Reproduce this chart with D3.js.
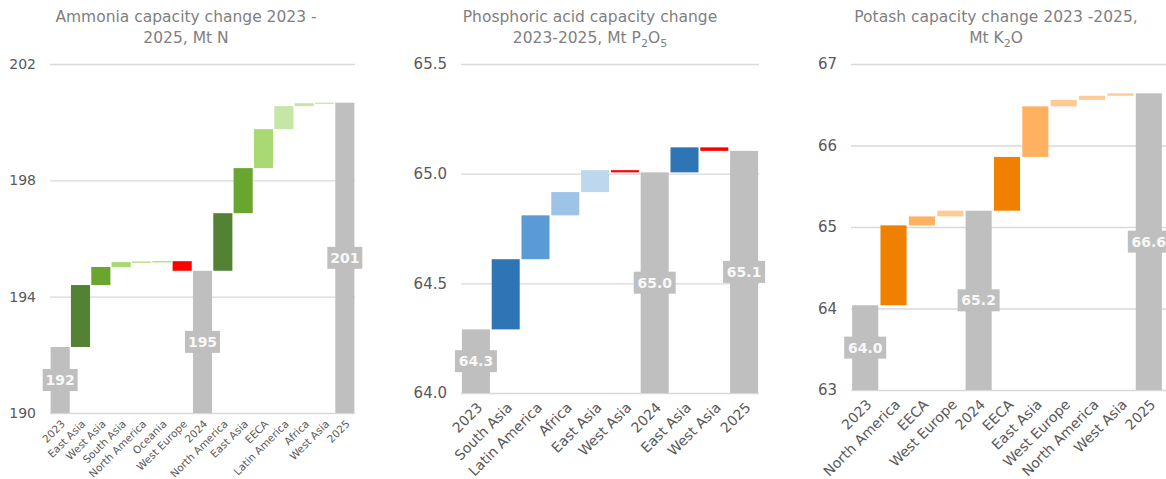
<!DOCTYPE html>
<html>
<head>
<meta charset="utf-8">
<script src="https://cdn.jsdelivr.net/npm/d3@7"></script>
<style>
  body { margin: 0; background: #fff; }
  svg text { font-family: Tahoma, "DejaVu Sans", sans-serif; }
</style>
</head>
<body>
<div id="chart"></div>
<script>
// years are totals, the rest are changes between them
var totalCats = ["2023", "2024", "2025"];

// Ammonia, Mt N
var ammoniaCats = ["2023", "East Asia", "West Asia", "South Asia", "North America", "Oceania", "West Europe", "2024",
    "North America", "East Asia", "EECA", "Latin America", "Africa", "West Asia", "2025"];
var ammoniaValues = [192.27, 2.13, 0.62, 0.17, 0.02, 0.01, -0.33, 194.89, 1.98, 1.55, 1.34, 0.79, 0.10, 0.02, 200.67];
var ammoniaTicks = [190, 194, 198, 202];

// Phosphoric acid, Mt P2O5
var phosCats = ["2023", "South Asia", "Latin America", "Africa", "East Asia", "West Asia", "2024", "East Asia", "West Asia", "2025"];
var phosValues = [64.29, 0.32, 0.20, 0.106, 0.10, -0.01, 65.006, 0.114, -0.016, 65.104];
var phosTicks = [64.0, 64.5, 65.0, 65.5];

// Potash, Mt K2O
var potashCats = ["2023", "North America", "EECA", "West Europe", "2024", "EECA", "East Asia", "West Europe", "North America", "West Asia", "2025"];
var potashValues = [64.04, 0.98, 0.11, 0.07, 65.20, 0.66, 0.62, 0.08, 0.05, 0.03, 66.64];
var potashTicks = [63, 64, 65, 66, 67];

// bar colours
var ammoniaColors = ["#bfbfbf", "#548235", "#6aa52f", "#a9d973", "#a9d973", "#a9d973", "#ff0000", "#bfbfbf",
    "#548235", "#6aa52f", "#a9d973", "#c5e6a5", "#c5e6a5", "#c5e6a5", "#bfbfbf"];
var phosColors = ["#bfbfbf", "#2e75b6", "#5b9bd5", "#9dc3e6", "#bdd7ee", "#ff0000", "#bfbfbf", "#2e75b6", "#ff0000", "#bfbfbf"];
var potashColors = ["#bfbfbf", "#f08000", "#ffb061", "#ffcb94", "#bfbfbf", "#f08000", "#ffb061", "#ffcb94", "#ffcb94", "#ffcb94", "#bfbfbf"];

var svg = d3.select("#chart")
    .append("svg")
    .attr("width", 1166)
    .attr("height", 479);

function drawWaterfall(opt) {
    // running sum -> start/end of each bar
    var run = 0;
    var rows = opt.cats.map(function (c, i) {
        var v = opt.values[i];
        var isTotal = totalCats.indexOf(c) >= 0;
        var r;
        if (isTotal) {
            r = { cat: c, key: i, y0: opt.ticks[0], y1: v, total: true, value: v };
            run = v;
        } else {
            r = { cat: c, key: i, y0: run, y1: run + v, total: false };
            run = run + v;
        }
        r.color = opt.colors[i];
        return r;
    });

    var g = svg.append("g")
        .attr("transform", "translate(" + opt.left + "," + opt.top + ")");

    var x = d3.scaleBand()
        .domain(rows.map(function (d) { return d.key; }))
        .range([0, opt.width])
        .paddingInner(opt.pad)
        .paddingOuter(opt.pad / 2);

    var y = d3.scaleLinear()
        .domain([opt.ticks[0], opt.ticks[opt.ticks.length - 1]])
        .range([opt.height, 0]);

    // gridlines + tick labels
    var yAxis = g.append("g")
        .call(d3.axisLeft(y)
            .tickValues(opt.ticks)
            .tickFormat(d3.format(opt.tickFmt))
            .tickSizeInner(-opt.gridWidth)
            .tickSizeOuter(0)
            .tickPadding(opt.tickPad));
    yAxis.select(".domain").remove();
    yAxis.selectAll("line").attr("stroke", "#d9d9d9").attr("stroke-width", 1.3);
    yAxis.selectAll("text")
        .attr("fill", "#595959")
        .style("font-size", opt.tickSize + "px");

    // bars
    g.append("g")
        .selectAll("rect")
        .data(rows)
        .enter()
        .append("rect")
        .attr("x", function (d) { return x(d.key); })
        .attr("width", x.bandwidth())
        .attr("y", function (d) { return y(Math.max(d.y0, d.y1)); })
        .attr("height", function (d) { return Math.max(1.2, Math.abs(y(d.y0) - y(d.y1))); })
        .attr("fill", function (d) { return d.color; });

    // category labels
    var xAxis = g.append("g")
        .attr("transform", "translate(0," + opt.height + ")")
        .call(d3.axisBottom(x)
            .tickSize(0)
            .tickFormat(function (k) { return rows[k].cat; }));
    xAxis.select(".domain").remove();
    xAxis.selectAll("text")
        .attr("x", 0)
        .attr("y", 0)
        .attr("dy", "0.35em")
        .attr("text-anchor", "end")
        .attr("transform", "translate(" + opt.labDx + "," + opt.labDy + ") rotate(-45)")
        .attr("fill", "#595959")
        .style("font-size", opt.labSize + "px");

    // value labels on the totals
    var totals = rows.filter(function (d) { return d.total; });
    var lab = g.append("g")
        .selectAll("g")
        .data(totals)
        .enter()
        .append("g")
        .attr("transform", function (d) {
            return "translate(" + (x(d.key) + x.bandwidth() / 2) + "," + ((y(d.y0) + y(d.y1)) / 2) + ")";
        });
    lab.append("rect")
        .attr("x", -opt.boxW / 2)
        .attr("y", -11)
        .attr("width", opt.boxW)
        .attr("height", 22)
        .attr("fill", "#bfbfbf");
    lab.append("text")
        .attr("text-anchor", "middle")
        .attr("dy", "0.36em")
        .attr("fill", "#f8f8f8")
        .style("font-size", "14px")
        .style("font-weight", "bold")
        .text(function (d) { return d3.format(opt.labFmt)(d.value); });

    // title, "_n" gives a subscript
    var title = svg.append("text")
        .attr("text-anchor", "middle")
        .attr("fill", "#7f7f7f")
        .style("font-size", "15.5px");
    opt.title.forEach(function (line, li) {
        var parts = line.split(/(_\d)/).filter(function (p) { return p.length; });
        parts.forEach(function (p, pi) {
            var t = title.append("tspan");
            if (pi === 0) t.attr("x", opt.titleX).attr("y", 22 + li * 21);
            if (p[0] === "_") {
                t.attr("dy", 4).style("font-size", "11px").text(p.slice(1));
            } else {
                t.attr("dy", pi === 0 ? 0 : -4).text(p);
            }
        });
    });
}

drawWaterfall({
    cats: ammoniaCats, values: ammoniaValues, colors: ammoniaColors, ticks: ammoniaTicks,
    left: 50, top: 64, width: 305, gridWidth: 305, height: 349, pad: 0.06,
    tickFmt: "d", tickPad: 14, tickSize: 14, labSize: 10.5, labDx: 3, labDy: 9,
    labFmt: ".0f", boxW: 35,
    title: ["Ammonia capacity change 2023 -", "2025, Mt N"], titleX: 186
});

drawWaterfall({
    cats: phosCats, values: phosValues, colors: phosColors, ticks: phosTicks,
    left: 461, top: 64, width: 298, gridWidth: 298, height: 329, pad: 0.06,
    tickFmt: ".1f", tickPad: 14, tickSize: 15, labSize: 14, labDx: 4, labDy: 12,
    labFmt: ".1f", boxW: 42,
    title: ["Phosphoric acid capacity change", "2023-2025, Mt P_2O_5"], titleX: 590
});

drawWaterfall({
    cats: potashCats, values: potashValues, colors: potashColors, ticks: potashTicks,
    left: 851, top: 64, width: 312, gridWidth: 315, height: 326, pad: 0.08,
    tickFmt: "d", tickPad: 14, tickSize: 15, labSize: 14, labDx: 4, labDy: 12,
    labFmt: ".1f", boxW: 42,
    title: ["Potash capacity change 2023 -2025,", "Mt K_2O"], titleX: 996
});
</script>
</body>
</html>
